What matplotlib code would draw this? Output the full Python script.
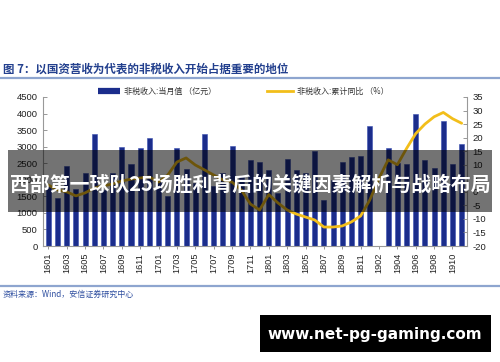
import numpy as np
import matplotlib
matplotlib.use("Agg")
import matplotlib.pyplot as plt
from matplotlib.patches import Rectangle
from matplotlib.lines import Line2D

plt.rcParams['font.family'] = ['Noto Sans CJK SC', 'DejaVu Sans']

months = ["1601","1602","1603","1604","1605","1606","1607","1608","1609","1610","1611","1612",
          "1701","1702","1703","1704","1705","1706","1707","1708","1709","1710","1711","1712",
          "1801","1802","1803","1804","1805","1806","1807","1808","1809","1810","1811","1812",
          "1902","1903","1904","1905","1906","1907","1908","1909","1910","1911"]

monthly = [1800, 1460, 2425, 1720, 2215, 3380, 1700, 2200, 2980, 2470, 2950, 3270,
           2000, 1500, 2950, 2325, 1900, 3373, 1800, 2200, 3020, 2100, 2597, 2527,
           2300, 1600, 2617, 2300, 2200, 2860, 1400, 2000, 2527, 2698, 2718, 3610,
           np.nan, 2970, 2500, 2466, 3986, 2600, 2345, 3775, 2490, 3071]

cum_yoy = [2.5, 0.7, 0.0, -1.5, -0.4, 1.4, 2.2, 2.9, 4.0, 4.7, 5.1, 5.5,
           3.6, 6.2, 11.0, 12.5, 9.9, 8.1, 6.2, 4.4, 3.6, 0.7, -4.5, -6.7,
           -1.0, -4.1, -6.7, -8.2, -9.3, -10.4, -13.0, -13.0, -12.6, -11.1, -8.9, -3.0,
           5.0, 11.8, 10.0, 16.0, 21.5, 25.0, 27.7, 29.3, 27.0, 25.3]

left_ticks = [0, 500, 1000, 1500, 2000, 2500, 3000, 3500, 4000, 4500]
right_ticks = [-20, -15, -10, -5, 0, 5, 10, 15, 20, 25, 30, 35]

title = "图 7：以国资营收为代表的非税收入开始占据重要的地位"
legend_bar = "非税收入:当月值 （亿元）"
legend_line = "非税收入:累计同比 （%）"
source = "资料来源：Wind，安信证券研究中心"
overlay = "西部第一球队25场胜利背后的关键因素解析与战略布局"
watermark = "www.net-pg-gaming.com"

W, H = 500, 362
fig = plt.figure(figsize=(5, 3.62), dpi=100)
fig.patch.set_facecolor('white')

def fx(px): return px / W
def fy(py): return 1 - py / H

ax = fig.add_axes([fx(43), fy(246), fx(467) - fx(43), fy(97) - fy(246)])
x = np.arange(len(months))
vals = np.array(monthly, dtype=float)
mask = ~np.isnan(vals)
ax.bar(x[mask], vals[mask], width=0.55, color='#1B2D8C', edgecolor='#3A4FB0', linewidth=0.4, zorder=2)
ax.set_ylim(0, 4500)
ax.set_xlim(-0.58, len(months) - 1 + 0.58)
ax.set_yticks(left_ticks)
ax.set_yticklabels([str(v) for v in left_ticks], family=['Liberation Sans', 'DejaVu Sans'], fontsize=6.8, color='#222222')
ax.set_xticks(x[::2])
ax.set_xticklabels(months[::2], rotation=90, family=['Liberation Sans', 'DejaVu Sans'], fontsize=6.6, color='#222222')
ax.tick_params(axis='y', direction='in', length=3, width=0.6, color='#888888', pad=4)
ax.tick_params(axis='x', direction='out', length=2, width=0.6, color='#888888', pad=3)
for s in ['top', 'right']:
    ax.spines[s].set_visible(False)
for s in ['left', 'bottom']:
    ax.spines[s].set_color('#999999')
    ax.spines[s].set_linewidth(0.8)

ax2 = ax.twinx()
ax2.plot(x, cum_yoy, color='#F2BE1A', linewidth=2.0, solid_joinstyle='round', solid_capstyle='round', zorder=3)
ax2.set_ylim(-20, 35)
ax2.set_yticks(right_ticks)
ax2.set_yticklabels([str(v) for v in right_ticks], family=['Liberation Sans', 'DejaVu Sans'], fontsize=6.8, color='#222222')
ax2.tick_params(axis='y', direction='in', length=3, width=0.6, color='#888888', pad=4)
for s in ['top', 'left', 'bottom']:
    ax2.spines[s].set_visible(False)
ax2.spines['right'].set_color('#999999')
ax2.spines['right'].set_linewidth(0.8)

# title and rules
fig.text(fx(3), fy(69), title, fontsize=8.3, fontweight='bold', color='#23408E', va='center', ha='left')
fig.add_artist(Line2D([0, 1], [fy(78), fy(78)], color='#8EA5CF', linewidth=1.6))
fig.add_artist(Line2D([0, 1], [fy(286), fy(286)], color='#8EA5CF', linewidth=1.6))
fig.text(fx(3), fy(294), source, fontsize=5.8, style='italic', color='#2F4FA0', va='center', ha='left')

# legend
fig.add_artist(Line2D([fx(98), fx(120)], [fy(91), fy(91)], color='#1B2D8C', linewidth=4.5, solid_capstyle='butt'))
fig.text(fx(124), fy(91), legend_bar, fontsize=5.8, color='#333333', va='center', ha='left')
fig.add_artist(Line2D([fx(267), fx(293)], [fy(91), fy(91)], color='#F2BE1A', linewidth=2.0))
fig.text(fx(297), fy(91), legend_line, fontsize=5.8, color='#333333', va='center', ha='left')

# overlay band
fig.add_artist(Rectangle((fx(8), fy(212)), fx(492) - fx(8), fy(150) - fy(212),
                         transform=fig.transFigure, facecolor='black', alpha=0.55, edgecolor='none', zorder=10))
fig.text(0.5, fy(184), overlay, fontsize=14.3, fontweight='bold', color='white', ha='center', va='center', zorder=11)

# watermark
fig.add_artist(Rectangle((fx(260), fy(352)), fx(491) - fx(260), fy(315) - fy(352),
                         transform=fig.transFigure, facecolor='black', edgecolor='none', zorder=10))
fig.text(fx(375), fy(334), watermark, fontsize=11, fontweight='bold', color='white', ha='center', va='center',
         family=['DejaVu Sans'], zorder=11)

fig.savefig('out.png', dpi=100)
